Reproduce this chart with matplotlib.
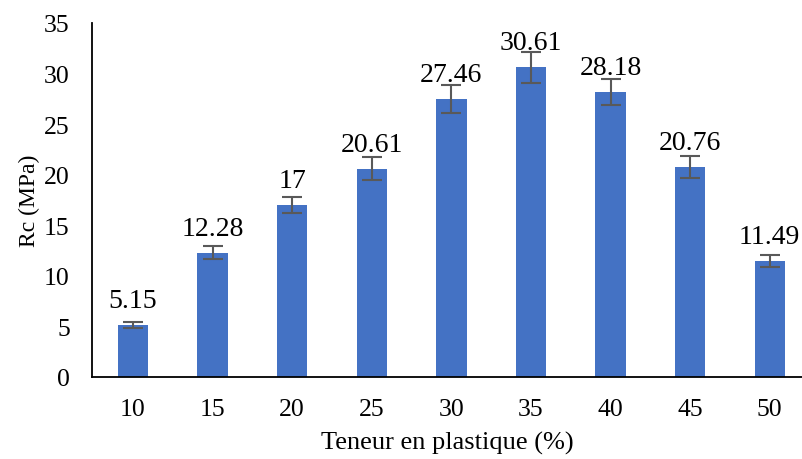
import matplotlib
matplotlib.use("Agg")
import matplotlib.pyplot as plt

categories = ["10", "15", "20", "25", "30", "35", "40", "45", "50"]
values = [5.15, 12.28, 17, 20.61, 27.46, 30.61, 28.18, 20.76, 11.49]
errors = [0.3, 0.65, 0.8, 1.1, 1.4, 1.5, 1.3, 1.05, 0.6]
labels = ["5.15", "12.28", "17", "20.61", "27.46", "30.61", "28.18", "20.76", "11.49"]

plt.rcParams['font.family'] = ['Liberation Serif', 'DejaVu Serif']

fig = plt.figure(figsize=(8.02, 4.60), dpi=100)
ax = fig.add_axes([92/802, 1-378/460, (802-92)/802, (378-24)/460])

x = list(range(len(categories)))
ax.bar(x, values, width=0.38, color="#4472C4", zorder=2)
ax.errorbar(x, values, yerr=errors, fmt="none", ecolor="#595959", elinewidth=1.5,
            capsize=7, capthick=1.5, zorder=3)
for xi, v, lab in zip(x, values, labels):
    ax.annotate(lab, xy=(xi, v), xytext=(0, 8.6), textcoords="offset points",
                ha="center", va="bottom", fontsize=20, color="#000000", zorder=4)

ax.set_xlim(-0.515, -0.515 + (802 - 92) / 79.6)
ax.set_ylim(0, 35)
ax.set_yticks(range(0, 36, 5))
ax.set_xticks(x)
ax.set_xticklabels(categories)
ax.tick_params(axis="y", length=0, labelsize=18.5, colors="#000000", pad=16)
ax.tick_params(axis="x", length=0, labelsize=18.5, colors="#000000", pad=15)
for s in ["top", "right"]:
    ax.spines[s].set_visible(False)
for s in ["left", "bottom"]:
    ax.spines[s].set_color("#000000")
    ax.spines[s].set_linewidth(1.3)
ax.set_xlabel("Teneur en plastique (%)", fontsize=19, labelpad=8)
ax.set_ylabel("Rc (MPa)", fontsize=17, labelpad=3)

fig.savefig("out.png", dpi=100)
